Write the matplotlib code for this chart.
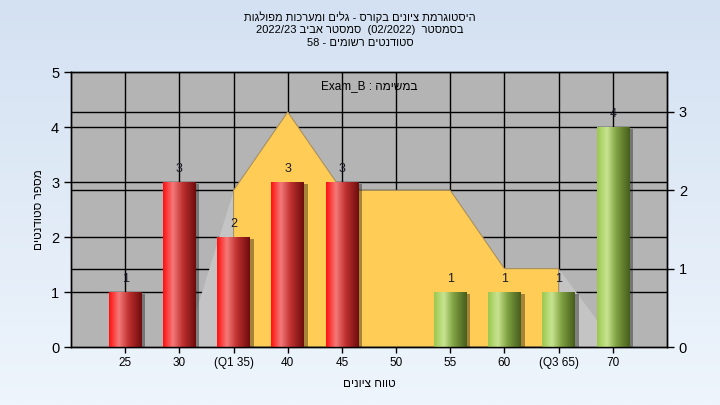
import matplotlib
matplotlib.use('Agg')
import matplotlib.pyplot as plt
import matplotlib.transforms as mtransforms
from matplotlib.colors import LinearSegmentedColormap
from matplotlib.patches import Polygon, Rectangle
import numpy as np

plt.rcParams['font.family'] = ['Liberation Sans', 'DejaVu Sans']


def heb(s):
    # matplotlib has no bidi: hebrew runs are given in visual order
    return s[::-1]


# data
tick_labels = ['25', '30', '(Q1 35)', '40', '45', '50', '55', '60', '(Q3 65)', '70']
counts = [1, 3, 2, 3, 3, 0, 1, 1, 1, 4]
bar_group = ['red', 'red', 'red', 'red', 'red', 'red', 'green', 'green', 'green', 'green']
# quartile area on the right axis (x = category index)
area_x = [2, 2, 3, 4, 6, 7, 8, 8]
area_y = [0, 2, 3, 2, 2, 1, 1, 0]

title_lines = [
    heb('היסטוגרמת ציונים בקורס - גלים ומערכות מפולגות'),
    '2022/23 ' + heb('סמסטר אביב') + '  (02/2022)  ' + heb('בסמסטר'),
    '58 - ' + heb('סטודנטים רשומים'),
]
legend_text = 'Exam_B : ' + heb('במשימה')
x_label = heb('טווח ציונים')
y_label = heb('מספר סטודנטים')

fig = plt.figure(figsize=(7.2, 4.05), dpi=100)

# background gradient
bg = fig.add_axes([0, 0, 1, 1], zorder=-10)
bg_cmap = LinearSegmentedColormap.from_list('bg', ['#d4e1f2', '#eef5fc'])
bg.imshow(np.linspace(0, 1, 256).reshape(-1, 1), aspect='auto', cmap=bg_cmap,
          extent=[0, 1, 0, 1], origin='upper')
bg.axis('off')

ax = fig.add_axes([0.0986, 0.1432, 0.8278, 0.679])
ax.set_facecolor('#b4b4b4')
ax2 = ax.twinx()

ax.set_xlim(-1, 10)
ax.set_ylim(0, 5)
ax2.set_ylim(0, 3.51)

# grid lines (both axes, under everything)
for i in range(len(tick_labels)):
    ax.axvline(i, color='black', lw=1, zorder=0.5)
for v in range(1, 5):
    ax.axhline(v, color='black', lw=1, zorder=0.5)
mix = mtransforms.blended_transform_factory(ax.transAxes, ax2.transData)
for v in range(1, 4):
    ax.plot([0, 1], [v, v], color='black', lw=1, transform=mix, zorder=0.5)

# quartile area
mix_data = mtransforms.blended_transform_factory(ax.transData, ax2.transData)
shade_l = Polygon([(area_x[0], area_y[1]), (area_x[0], 0), (area_x[0] - 0.9, 0)],
                  closed=True, fc='#c4c4c4', ec='none', transform=mix_data, zorder=0.8)
shade_r = Polygon([(area_x[-1], area_y[-2]), (area_x[-1], 0), (area_x[-1] + 1.08, 0)],
                  closed=True, fc='#c4c4c4', ec='none', transform=mix_data, zorder=0.8)
ax.add_patch(shade_l)
ax.add_patch(shade_r)
ax.add_patch(Polygon(list(zip(area_x, area_y)), closed=True, fc='#ffcc55', ec='#a89060',
                     lw=0.8, transform=mix_data, zorder=1))

# cylinder style bars
cmaps = {
    'red': LinearSegmentedColormap.from_list('r', [(0, '#ff1010'), (0.3, '#f47a7a'),
                                                   (0.6, '#c03030'), (1, '#6e0c0c')]),
    'green': LinearSegmentedColormap.from_list('g', [(0, '#9cc850'), (0.3, '#c8e490'),
                                                     (0.6, '#7ea040'), (1, '#465e1c')]),
}
grad = np.linspace(0, 1, 100).reshape(1, -1)
w = 0.6
for i, (c, g) in enumerate(zip(counts, bar_group)):
    if c <= 0:
        continue
    x0 = i - w / 2
    ax.add_patch(Rectangle((x0 + 0.07, 0), w, c - 0.04, fc='black', alpha=0.35,
                           ec='none', zorder=2))
    ax.imshow(grad, cmap=cmaps[g], aspect='auto', extent=[x0, x0 + w, 0, c],
              interpolation='bicubic', zorder=3)
    ax.text(i, c + 0.13, str(c), ha='center', va='bottom', fontsize=9,
            color='#1a1a2a', zorder=4)

ax.set_xlim(-1, 10)
ax.set_ylim(0, 5)

ax.set_xticks(range(len(tick_labels)))
ax.set_xticklabels(tick_labels, fontsize=8.5)
ax.set_yticks(range(0, 6))
ax.tick_params(axis='y', labelsize=10.5, length=5, width=1, direction='out')
ax.tick_params(axis='x', length=4, width=1, direction='out')
ax2.set_yticks(range(0, 4))
ax2.tick_params(axis='y', labelsize=10.5, length=5, width=1, direction='out')

for s in list(ax.spines.values()) + list(ax2.spines.values()):
    s.set_color('black')
    s.set_linewidth(1)

ax.set_xlabel(x_label, fontsize=8.5, labelpad=6)
ax.set_ylabel(y_label, fontsize=8.5, labelpad=4)

ax.text(0.5, 0.95, legend_text, transform=ax.transAxes, ha='center', va='center',
        fontsize=8.5, zorder=5)

for k, line in enumerate(title_lines):
    fig.text(0.5, 1 - (17 + 13 * k) / 405, line, ha='center', va='center', fontsize=8)

plt.savefig('out.png', dpi=100)
